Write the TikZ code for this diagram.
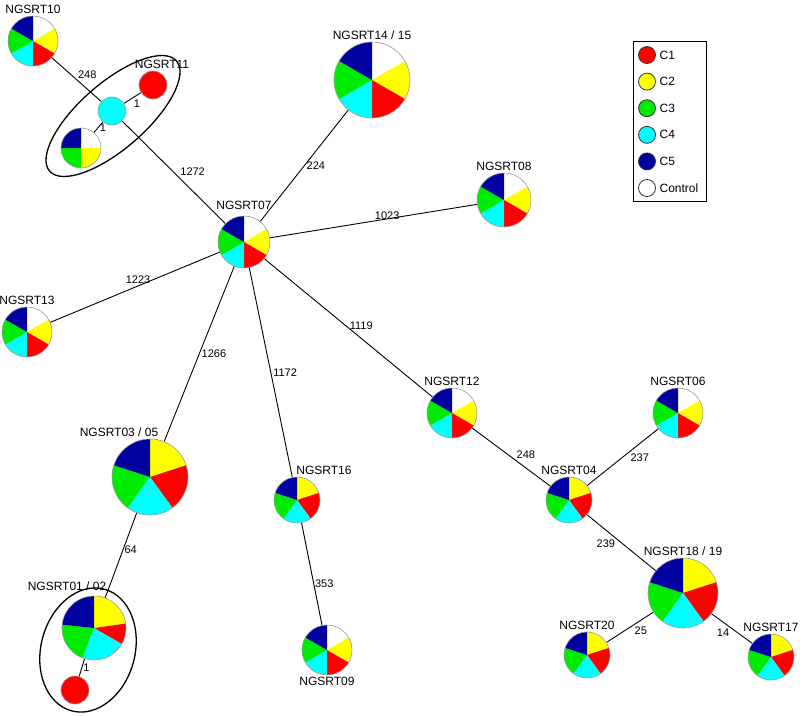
\documentclass[tikz,border=0pt]{standalone}
\usepackage{fontspec}
\setmainfont{Liberation Sans}
\usetikzlibrary{backgrounds}

\definecolor{cRed}{RGB}{255,0,0}
\definecolor{cYellow}{RGB}{255,255,0}
\definecolor{cGreen}{RGB}{0,235,0}
\definecolor{cCyan}{RGB}{0,255,255}
\definecolor{cBlue}{RGB}{0,0,160}

% slice lists: start angle / end angle / colour
\def\sixcut{90/30/white, 30/-30/cYellow, -30/-90/cRed, -90/-150/cCyan, -150/-210/cGreen, -210/-270/cBlue}
\def\fivecut{90/18/cYellow, 18/-54/cRed, -54/-126/cCyan, -126/-198/cGreen, -198/-270/cBlue}
\def\fourcut{90/0/white, 0/-90/cYellow, -90/-180/cGreen, -180/-270/cBlue}
\def\onetwocut{90/8/cYellow, 8/-30/cRed, -30/-111/cCyan, -111/-186/cGreen, -186/-270/cBlue}

\newcommand{\pieslices}[3]{%
  \foreach \sa/\sb/\sc in #3 {
    \fill[\sc] (#1.center) -- ++(\sa:#2pt) arc[start angle=\sa, end angle=\sb, radius=#2pt] -- cycle;
  }
  \draw[pieline] (#1.center) circle[radius=#2pt];
}

\begin{document}
\begin{tikzpicture}[
    x=1pt, y=1pt,
    pie/.style={circle, inner sep=0pt},
    dot/.style={circle, inner sep=0pt, draw=gray!80, line width=0.6pt},
    pieline/.style={draw=gray!80, line width=0.6pt},
    nlabel/.style={font=\fontsize{12}{14}\selectfont, inner sep=1pt},
    label distance=1pt,
    edge/.style={draw=black, line width=0.9pt},
    elabel/.style={font=\fontsize{11}{13}\selectfont, inner sep=1pt},
    group/.style={draw=black, line width=1.3pt},
    legdot/.style={circle, draw=black!80, line width=0.8pt, minimum size=17pt, inner sep=0pt},
    legtext/.style={font=\fontsize{12}{14}\selectfont, inner sep=1pt, label distance=2.5pt},
    legbox/.style={draw=black, line width=1pt},
]
\useasboundingbox (0,0) rectangle (800,-716);

\node[pie, minimum size=50pt, label={[nlabel]above:NGSRT10}] (n10) at (33,-41) {};
\node[dot, minimum size=28pt, fill=cRed, label={[nlabel, xshift=9pt]above:NGSRT11}] (n11r) at (153,-85) {};
\node[dot, minimum size=28pt, fill=cCyan] (n11c) at (112,-111) {};
\node[pie, minimum size=40pt] (n11p) at (81,-148) {};
\node[pie, minimum size=76pt, label={[nlabel]above:NGSRT14 / 15}] (n14) at (372,-80) {};
\node[pie, minimum size=52pt, label={[nlabel, yshift=4pt]above:NGSRT07}] (n07) at (244,-242) {};
\node[pie, minimum size=54pt, label={[nlabel]above:NGSRT08}] (n08) at (504,-200) {};
\node[pie, minimum size=50pt, label={[nlabel]above:NGSRT13}] (n13) at (27,-332) {};
\node[pie, minimum size=76pt, label={[nlabel, xshift=-31pt]above:NGSRT03 / 05}] (n03) at (150,-477) {};
\node[pie, minimum size=64pt, label={[nlabel, xshift=-27pt, yshift=3pt]above:NGSRT01 / 02}] (n01) at (94,-628) {};
\node[dot, minimum size=28pt, fill=cRed] (n01r) at (75,-690) {};
\node[pie, minimum size=46pt, label={[nlabel, xshift=27pt]above:NGSRT16}] (n16) at (297,-500) {};
\node[pie, minimum size=50pt, label={[nlabel]below:NGSRT09}] (n09) at (327,-650) {};
\node[pie, minimum size=50pt, label={[nlabel]above:NGSRT12}] (n12) at (452,-413) {};
\node[pie, minimum size=50pt, label={[nlabel]above:NGSRT06}] (n06) at (678,-413) {};
\node[pie, minimum size=46pt, label={[nlabel]above:NGSRT04}] (n04) at (569,-500) {};
\node[pie, minimum size=70pt, label={[nlabel]above:NGSRT18 / 19}] (n18) at (683,-593) {};
\node[pie, minimum size=46pt, label={[nlabel]above:NGSRT20}] (n20) at (587,-655) {};
\node[pie, minimum size=46pt, label={[nlabel]above:NGSRT17}] (n17) at (771,-657) {};

\pieslices{n10}{25}{\sixcut}
\pieslices{n11p}{20}{\fourcut}
\pieslices{n14}{38}{\sixcut}
\pieslices{n07}{26}{\sixcut}
\pieslices{n08}{27}{\sixcut}
\pieslices{n13}{25}{\sixcut}
\pieslices{n03}{38}{\fivecut}
\pieslices{n01}{32}{\onetwocut}
\pieslices{n16}{23}{\fivecut}
\pieslices{n09}{25}{\sixcut}
\pieslices{n12}{25}{\sixcut}
\pieslices{n06}{25}{\sixcut}
\pieslices{n04}{23}{\fivecut}
\pieslices{n18}{35}{\fivecut}
\pieslices{n20}{23}{\fivecut}
\pieslices{n17}{23}{\fivecut}

% groups
\draw[group, rotate around={41:(113,-116)}] (113,-116) ellipse[x radius=84, y radius=33];
\draw[group, rotate around={-15:(88,-650)}] (88,-650) ellipse[x radius=47, y radius=63];

\begin{pgfonlayer}{background}
\fill[white] (0,0) rectangle (800,-716);
\draw[edge] (n10) -- node[elabel, pos=0.5, anchor=south west] {248} (n11c);
\draw[edge] (n11c) -- node[elabel, midway, anchor=north west] {1} (n11r);
\draw[edge] (n11c) -- node[elabel, midway, anchor=west] {1} (n11p);
\draw[edge] (n11c) -- node[elabel, pos=0.55, anchor=south west] {1272} (n07);
\draw[edge] (n07) -- node[elabel, midway, anchor=west, xshift=1pt] {224} (n14);
\draw[edge] (n07) -- node[elabel, midway, anchor=south west] {1023} (n08);
\draw[edge] (n07) -- node[elabel, midway, anchor=south, xshift=3pt, yshift=2pt] {1223} (n13);
\draw[edge] (n07) -- node[elabel, midway, anchor=west, xshift=1pt] {1266} (n03);
\draw[edge] (n07) -- node[elabel, midway, anchor=west, xshift=1pt] {1172} (n16);
\draw[edge] (n07) -- node[elabel, midway, anchor=west, yshift=2pt] {1119} (n12);
\draw[edge] (n03) -- node[elabel, pos=0.43, anchor=west] {64} (n01);
\draw[edge] (n01) -- node[elabel, midway, anchor=west] {1} (n01r);
\draw[edge] (n16) -- node[elabel, pos=0.59, anchor=west] {353} (n09);
\draw[edge] (n12) -- node[elabel, pos=0.55, anchor=south west] {248} (n04);
\draw[edge] (n04) -- node[elabel, pos=0.59, anchor=north west] {237} (n06);
\draw[edge] (n04) -- node[elabel, pos=0.43, anchor=north east] {239} (n18);
\draw[edge] (n20) -- node[elabel, pos=0.57, anchor=north west] {25} (n18);
\draw[edge] (n18) -- node[elabel, pos=0.47, anchor=north east] {14} (n17);
\end{pgfonlayer}

% legend
\foreach \i/\c/\t in {1/cRed/C1, 2/cYellow/C2, 3/cGreen/C3, 4/cCyan/C4, 5/cBlue/C5, 6/white/Control}
  \node[legdot, fill=\c, label={[legtext]right:\t}] (leg\i) at (647,{-55-26.6*(\i-1)}) {};
\draw[legbox] (633,-41) rectangle (706,-201);
\end{tikzpicture}
\end{document}
